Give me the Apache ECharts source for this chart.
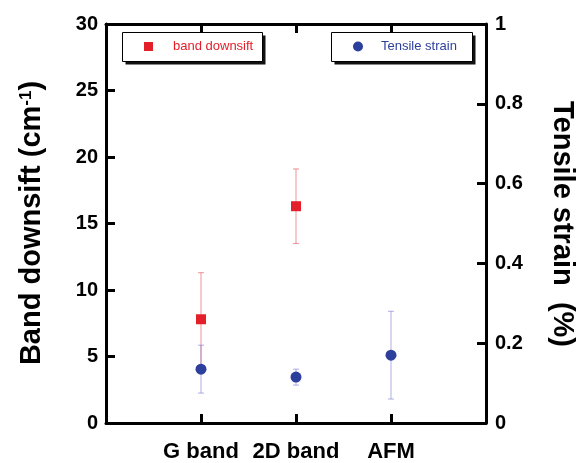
<!DOCTYPE html>
<html>
<head>
<meta charset="utf-8">
<script src="https://cdn.jsdelivr.net/npm/echarts@6/dist/echarts.min.js"></script>
<style>html,body{margin:0;padding:0;background:#fff}#c{width:579px;height:463px}</style>
</head>
<body>
<div id="c"></div>
<script>
// ---- data ----
var categories = ['G band', '2D band', 'AFM'];
var bandShift = [7.8, 16.3, null];          // cm^-1 (left axis)
var bandShiftErr = [3.5, 2.8, null];
var strain = [0.135, 0.115, 0.17];          // % (right axis)
var strainErr = [0.06, 0.02, 0.11];
var leftTicks = [0, 5, 10, 15, 20, 25, 30];
var rightTicks = ['0', '0.2', '0.4', '0.6', '0.8', '1'];

var RED = '#e3202a', BLUE = '#2d3f9c';
var RED_ERR = 'rgba(226,60,70,0.55)', BLUE_ERR = 'rgba(110,110,210,0.55)';
var FONT = '"Liberation Sans", Arial, Helvetica, sans-serif';

function pts(vals, errs) {
  var out = [];
  for (var i = 0; i < vals.length; i++) if (vals[i] != null) out.push([i + 1, vals[i], errs[i]]);
  return out;
}
function errItem(color) {
  return function (params, api) {
    var x = api.value(0), y = api.value(1), e = api.value(2);
    var hi = api.coord([x, y + e]), lo = api.coord([x, y - e]);
    var w = 3;
    var st = { stroke: color, lineWidth: 1 };
    return { type: 'group', children: [
      { type: 'line', shape: { x1: hi[0], y1: hi[1], x2: lo[0], y2: lo[1] }, style: st },
      { type: 'line', shape: { x1: hi[0] - w, y1: hi[1], x2: hi[0] + w, y2: hi[1] }, style: st },
      { type: 'line', shape: { x1: lo[0] - w, y1: lo[1], x2: lo[0] + w, y2: lo[1] }, style: st }
    ]};
  };
}
function box(x, y, w, h) {
  return [
    { type: 'rect', z: 10, shape: { x: x + 3, y: y + 3, width: w, height: h }, style: { fill: '#111' } },
    { type: 'rect', z: 11, shape: { x: x, y: y, width: w, height: h }, style: { fill: '#fff', stroke: '#000', lineWidth: 1 } }
  ];
}

var axisLine = { show: true, onZero: false, lineStyle: { color: '#000', width: 3 } };
var axisTick = { show: true, inside: true, length: 9, lineStyle: { color: '#000', width: 3 } };

var chart = echarts.init(document.getElementById('c'));
chart.setOption({
  animation: false,
  backgroundColor: '#fff',
  grid: { left: 106, right: 93, top: 24, bottom: 40 },
  xAxis: [{
    type: 'value', min: 0, max: 4, interval: 1, position: 'bottom',
    axisLine: axisLine, axisTick: axisTick, splitLine: { show: false },
    axisLabel: { margin: 18, color: '#000', fontFamily: FONT, fontWeight: 'bold', fontSize: 22,
      formatter: function (v) { return categories[v - 1] || ''; } }
  }, {
    type: 'value', min: 0, max: 4, interval: 1, position: 'top',
    axisLine: axisLine, axisTick: axisTick, splitLine: { show: false }, axisLabel: { show: false }
  }],
  yAxis: [{
    type: 'value', min: 0, max: 30, interval: 5, position: 'left',
    axisLine: axisLine, axisTick: axisTick, splitLine: { show: false },
    axisLabel: { margin: 8, color: '#000', fontFamily: FONT, fontWeight: 'bold', fontSize: 20,
      formatter: function (v) { return leftTicks.indexOf(v) >= 0 ? String(v) : ''; } }
  }, {
    type: 'value', min: 0, max: 1, interval: 0.2, position: 'right',
    axisLine: axisLine, axisTick: axisTick, splitLine: { show: false },
    axisLabel: { margin: 9, color: '#000', fontFamily: FONT, fontWeight: 'bold', fontSize: 20,
      formatter: function (v) { return rightTicks[Math.round(v * 5)]; } }
  }],
  legend: [{
    left: 122, top: 32, padding: [8, 8, 8, 22], itemWidth: 9, itemHeight: 9, z: 20,
    data: [{ name: 'band downsift', icon: 'rect' }],
    textStyle: { color: RED, fontFamily: FONT, fontSize: 13, padding: [0, 0, 0, 15] }
  }, {
    left: 331, top: 32, padding: [8, 11, 8, 22], itemWidth: 10, itemHeight: 10, z: 20,
    data: [{ name: 'Tensile strain', icon: 'circle' }],
    textStyle: { color: BLUE, fontFamily: FONT, fontSize: 13, padding: [0, 0, 0, 13] }
  }],
  series: [{
    type: 'custom', name: 'band err', xAxisIndex: 0, yAxisIndex: 0,
    renderItem: errItem(RED_ERR), data: pts(bandShift, bandShiftErr), z: 1, silent: true
  }, {
    type: 'custom', name: 'strain err', xAxisIndex: 0, yAxisIndex: 1,
    renderItem: errItem(BLUE_ERR), data: pts(strain, strainErr), z: 1, silent: true
  }, {
    type: 'scatter', name: 'band downsift', xAxisIndex: 0, yAxisIndex: 0,
    symbol: 'rect', symbolSize: 10, itemStyle: { color: RED, opacity: 1 },
    data: pts(bandShift, bandShiftErr).map(function (d) { return [d[0], d[1]]; }), z: 3
  }, {
    type: 'scatter', name: 'Tensile strain', xAxisIndex: 0, yAxisIndex: 1,
    symbol: 'circle', symbolSize: 11, itemStyle: { color: BLUE, opacity: 1 },
    data: pts(strain, strainErr).map(function (d) { return [d[0], d[1]]; }), z: 3
  }],
  graphic: box(122.5, 32.5, 140, 29).concat(box(331.5, 32.5, 141, 29)).concat([{
    type: 'text', x: 32, y: 223, rotation: Math.PI / 2,
    style: {
      text: '{a|Band downsift (cm}{s|-1}{a|)}', align: 'center', verticalAlign: 'middle',
      rich: {
        a: { fontFamily: FONT, fontWeight: 'bold', fontSize: 29, fill: '#000', color: '#000' },
        s: { fontFamily: FONT, fontWeight: 'bold', fontSize: 17, fill: '#000', color: '#000', verticalAlign: 'top', padding: [0, 0, 10, 0] }
      }
    }
  }, {
    type: 'text', x: 562, y: 224, rotation: -Math.PI / 2,
    style: {
      text: 'Tensile strain  (%)', align: 'center', verticalAlign: 'middle',
      font: 'bold 29px ' + FONT, fill: '#000'
    }
  }])
});
</script>
</body>
</html>
